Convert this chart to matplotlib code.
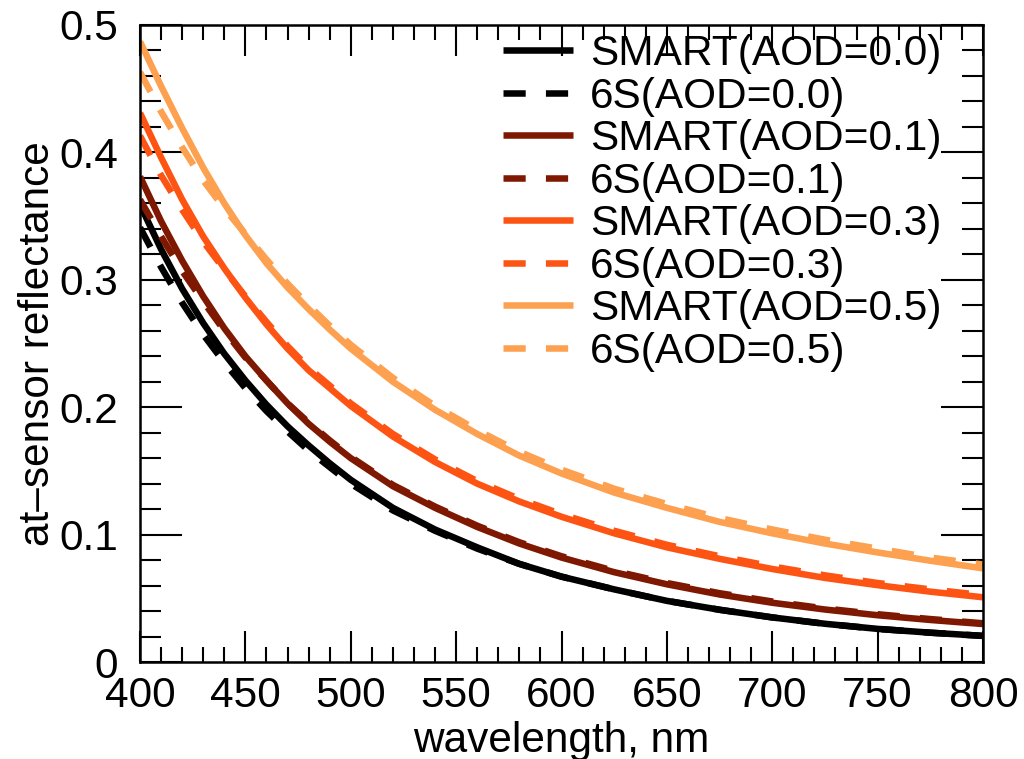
import matplotlib
matplotlib.use("Agg")
import matplotlib.pyplot as plt
from matplotlib.ticker import MultipleLocator, FixedLocator, FixedFormatter

plt.rcParams['font.family'] = ['Liberation Sans', 'DejaVu Sans']

wavelength = [400, 410, 420, 430, 440, 450, 460, 470, 480, 490, 500, 520, 540,
              560, 580, 600, 625, 650, 675, 700, 725, 750, 775, 800]

smart_aod00 = [0.359, 0.324, 0.293, 0.266, 0.242, 0.221, 0.202, 0.185, 0.170, 0.156, 0.143, 0.121, 0.104,
               0.090, 0.077, 0.067, 0.057, 0.048, 0.041, 0.035, 0.030, 0.026, 0.023, 0.0205]
s6_aod00 = [0.341, 0.310, 0.282, 0.257, 0.235, 0.215, 0.197, 0.181, 0.166, 0.153, 0.140, 0.119, 0.103,
            0.089, 0.077, 0.067, 0.057, 0.048, 0.041, 0.035, 0.030, 0.026, 0.023, 0.0205]
smart_aod01 = [0.381, 0.346, 0.315, 0.287, 0.262, 0.240, 0.221, 0.203, 0.187, 0.173, 0.160, 0.138, 0.121,
               0.106, 0.093, 0.082, 0.0705, 0.061, 0.053, 0.0465, 0.0412, 0.0367, 0.033, 0.0298]
s6_aod01 = [0.363, 0.334, 0.307, 0.283, 0.260, 0.239, 0.221, 0.203, 0.188, 0.174, 0.161, 0.139, 0.122,
            0.107, 0.094, 0.083, 0.0715, 0.062, 0.054, 0.0475, 0.042, 0.0375, 0.0337, 0.0304]
smart_aod03 = [0.431, 0.396, 0.363, 0.334, 0.309, 0.286, 0.265, 0.246, 0.229, 0.215, 0.201, 0.177, 0.157,
               0.140, 0.126, 0.114, 0.101, 0.090, 0.081, 0.073, 0.066, 0.0603, 0.0552, 0.0508]
s6_aod03 = [0.413, 0.382, 0.355, 0.330, 0.308, 0.287, 0.267, 0.248, 0.231, 0.217, 0.203, 0.179, 0.159,
            0.142, 0.128, 0.116, 0.103, 0.092, 0.083, 0.075, 0.068, 0.062, 0.057, 0.0525]
smart_aod05 = [0.487, 0.452, 0.419, 0.388, 0.360, 0.335, 0.313, 0.294, 0.277, 0.261, 0.246, 0.220, 0.198,
               0.179, 0.162, 0.148, 0.133, 0.121, 0.110, 0.101, 0.093, 0.086, 0.0795, 0.0735]
s6_aod05 = [0.463, 0.432, 0.404, 0.378, 0.356, 0.336, 0.316, 0.297, 0.280, 0.264, 0.249, 0.223, 0.201,
            0.182, 0.165, 0.151, 0.136, 0.124, 0.113, 0.104, 0.096, 0.089, 0.082, 0.0765]

series_labels = ['SMART(AOD=0.0)', '6S(AOD=0.0)', 'SMART(AOD=0.1)', '6S(AOD=0.1)',
                 'SMART(AOD=0.3)', '6S(AOD=0.3)', 'SMART(AOD=0.5)', '6S(AOD=0.5)']
series_values = [smart_aod00, s6_aod00, smart_aod01, s6_aod01,
                 smart_aod03, s6_aod03, smart_aod05, s6_aod05]
colors = ['#000000', '#000000', '#7f1800', '#7f1800',
          '#fd5414', '#fd5414', '#fda050', '#fda050']

xticks = [400, 450, 500, 550, 600, 650, 700, 750, 800]
xtick_labels = ['400', '450', '500', '550', '600', '650', '700', '750', '800']
yticks = [0, 0.1, 0.2, 0.3, 0.4, 0.5]
ytick_labels = ['0', '0.1', '0.2', '0.3', '0.4', '0.5']

fig = plt.figure(figsize=(10.24, 7.59), dpi=100)
ax = fig.add_axes([140 / 1024, 1 - 662 / 759, 843 / 1024, 637 / 759])

lw = 4.7
for i, (lab, vals, col) in enumerate(zip(series_labels, series_values, colors)):
    if i % 2 == 0:
        ax.plot(wavelength, vals, color=col, lw=lw, solid_capstyle='butt', label=lab)
    else:
        ax.plot(wavelength, vals, color=col, lw=lw, dashes=(3.4, 3.1),
                dash_capstyle='butt', label=lab)

ax.set_xlim(400, 800)
ax.set_ylim(0, 0.5)
ax.xaxis.set_major_locator(FixedLocator(xticks))
ax.xaxis.set_major_formatter(FixedFormatter(xtick_labels))
ax.xaxis.set_minor_locator(MultipleLocator(10))
ax.yaxis.set_major_locator(FixedLocator(yticks))
ax.yaxis.set_major_formatter(FixedFormatter(ytick_labels))
ax.yaxis.set_minor_locator(MultipleLocator(0.02))

ax.tick_params(axis='x', which='major', direction='in', length=22.3, width=1.5,
               top=True, pad=10, labelsize=30.5)
ax.tick_params(axis='x', which='minor', direction='in', length=10.8, width=1.5, top=True)
ax.tick_params(axis='y', which='major', direction='in', length=30.2, width=1.5,
               right=True, pad=16, labelsize=30.5)
ax.tick_params(axis='y', which='minor', direction='in', length=15.1, width=1.5, right=True)
for s in ax.spines.values():
    s.set_linewidth(1.8)

ax.set_xlabel('wavelength, nm', fontsize=30.5)
ax.xaxis.set_label_coords(0.5, -0.092)
ax.set_ylabel('at\u2013sensor reflectance', fontsize=30.5)
ax.yaxis.set_label_coords(-0.097, 0.5)

fs = 30.5
fpx = fs * 100 / 72
ax.legend(loc='upper left', bbox_to_anchor=(503 / 1024, 1 - 34 / 759),
          bbox_transform=fig.transFigure, frameon=False, fontsize=fs,
          handlelength=70 / fpx, handletextpad=17 / fpx, labelspacing=0.06,
          borderpad=0, borderaxespad=0)

fig.savefig('out.png', dpi=100)
